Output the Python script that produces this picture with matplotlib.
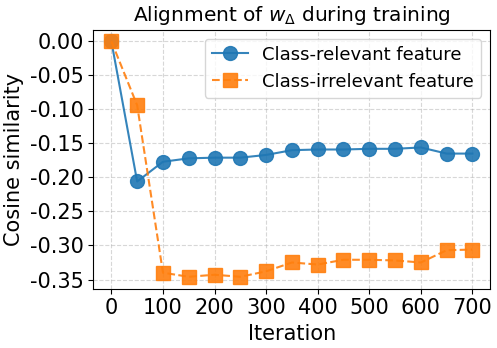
import matplotlib
matplotlib.use("Agg")
import matplotlib.pyplot as plt
from matplotlib.ticker import MultipleLocator, FormatStrFormatter

iterations = [0, 50, 100, 150, 200, 250, 300, 350, 400, 450, 500, 550, 600, 650, 700]
relevant = [0.0, -0.206, -0.177, -0.172, -0.171, -0.171, -0.167, -0.160, -0.159, -0.159,
            -0.158, -0.158, -0.156, -0.165, -0.165]
irrelevant = [0.0, -0.094, -0.340, -0.346, -0.343, -0.346, -0.338, -0.325, -0.328, -0.321,
              -0.321, -0.322, -0.325, -0.307, -0.306]

fig, ax = plt.subplots(figsize=(4.97, 3.48), dpi=100)
ax.plot(iterations, relevant, marker='o', markersize=10, linestyle='-',
        alpha=0.9, label='Class-relevant feature')
ax.plot(iterations, irrelevant, marker='s', markersize=10, linestyle='--',
        alpha=0.9, label='Class-irrelevant feature')
ax.set_title(r'Alignment of $w_\Delta$ during training', fontsize=14.5)
ax.set_xlabel('Iteration', fontsize=15)
ax.set_ylabel('Cosine similarity', fontsize=15)
ax.set_xticks(range(0, 701, 100))
ax.yaxis.set_major_locator(MultipleLocator(0.05))
ax.yaxis.set_major_formatter(FormatStrFormatter('%.2f'))
ax.tick_params(labelsize=15)
ax.grid(True, linestyle='--', alpha=0.5)
ax.legend(fontsize=13)
fig.tight_layout(pad=0.3)
fig.savefig('out.png')
